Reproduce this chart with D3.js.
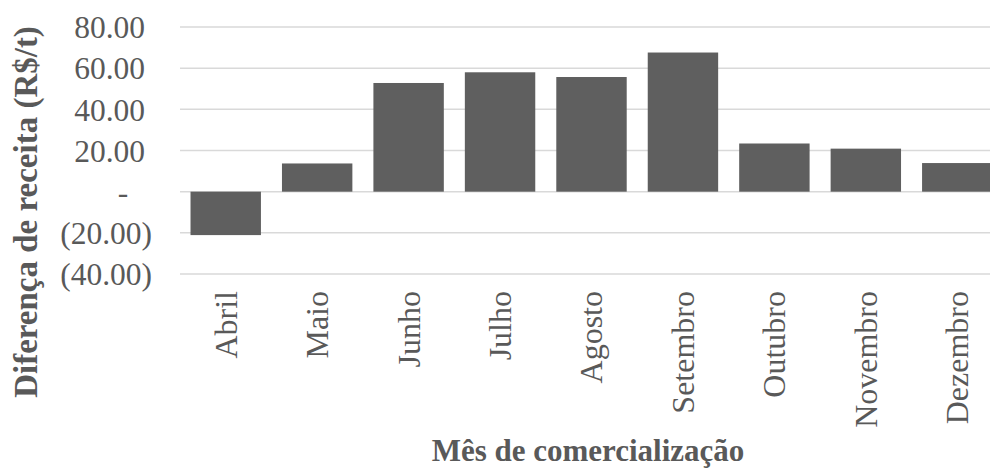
<!DOCTYPE html>
<html>
<head>
<meta charset="utf-8">
<script src="https://cdn.jsdelivr.net/npm/d3@7"></script>
<style>
  body { margin: 0; background: #fff; }
  svg { display: block; }
  text { font-family: "Liberation Serif", "Times New Roman", serif; fill: #595959; }
</style>
</head>
<body>
<div id="chart"></div>
<script>
// dados
const meses = ["Abril", "Maio", "Junho", "Julho", "Agosto", "Setembro", "Outubro", "Novembro", "Dezembro"];
const valores = [-21.1, 13.7, 52.8, 58.0, 55.7, 67.6, 23.4, 20.9, 13.9];
const yTicks = [-40, -20, 0, 20, 40, 60, 80];

const width = 990, height = 473;
const margin = { left: 180, right: -13, top: 27, bottom: 199 };

const svg = d3.select("#chart").append("svg")
    .attr("width", width)
    .attr("height", height);

const x = d3.scaleBand()
    .domain(meses)
    .range([margin.left, width - margin.right])
    .paddingInner(0.23)
    .paddingOuter(0.115);

const y = d3.scaleLinear()
    .domain([-40, 80])
    .range([height - margin.bottom, margin.top]);

// grade
svg.append("g")
    .selectAll("line")
    .data(yTicks)
    .join("line")
    .attr("x1", margin.left)
    .attr("x2", width)
    .attr("y1", d => y(d))
    .attr("y2", d => y(d))
    .attr("stroke", "#d9d9d9")
    .attr("stroke-width", 1.5);

// barras
svg.append("g")
    .selectAll("rect")
    .data(valores)
    .join("rect")
    .attr("x", (d, i) => x(meses[i]))
    .attr("width", x.bandwidth())
    .attr("y", d => y(Math.max(0, d)))
    .attr("height", d => Math.abs(y(d) - y(0)))
    .attr("fill", "#5f5f5f");

// eixo y
const fmt = d3.format(".2f");
const yAxis = svg.append("g")
    .attr("transform", `translate(${margin.left},0)`)
    .call(d3.axisLeft(y).tickValues(yTicks).tickSize(0).tickFormat(d => d === 0 ? "-" : d < 0 ? `(${fmt(-d)})` : fmt(d)));
yAxis.select(".domain").remove();
yAxis.selectAll("text")
    .attr("font-size", 31.5)
    .attr("font-family", "Liberation Serif")
    .attr("fill", "#595959")
    .attr("dy", "0.34em")
    .attr("text-anchor", d => d === 0 ? "middle" : "end")
    .attr("x", d => d === 0 ? -57 : d < 0 ? -28 : -35);

// eixo x
const xAxis = svg.append("g")
    .attr("transform", `translate(0,${y(-40)})`)
    .call(d3.axisBottom(x).tickSize(0));
xAxis.select(".domain").remove();
xAxis.selectAll("text")
    .attr("font-size", 32)
    .attr("font-family", "Liberation Serif")
    .attr("fill", "#595959")
    .attr("transform", "rotate(-90)")
    .attr("text-anchor", "end")
    .attr("x", -17)
    .attr("y", 0)
    .attr("dy", "0.34em");

// títulos
svg.append("text")
    .attr("transform", "translate(37,212) rotate(-90)")
    .attr("text-anchor", "middle")
    .attr("font-size", 33)
    .attr("font-weight", "bold")
    .text("Diferença de receita (R$/t)");

svg.append("text")
    .attr("x", 588)
    .attr("y", 461)
    .attr("text-anchor", "middle")
    .attr("font-size", 31)
    .attr("font-weight", "bold")
    .text("Mês de comercialização");
</script>
</body>
</html>
